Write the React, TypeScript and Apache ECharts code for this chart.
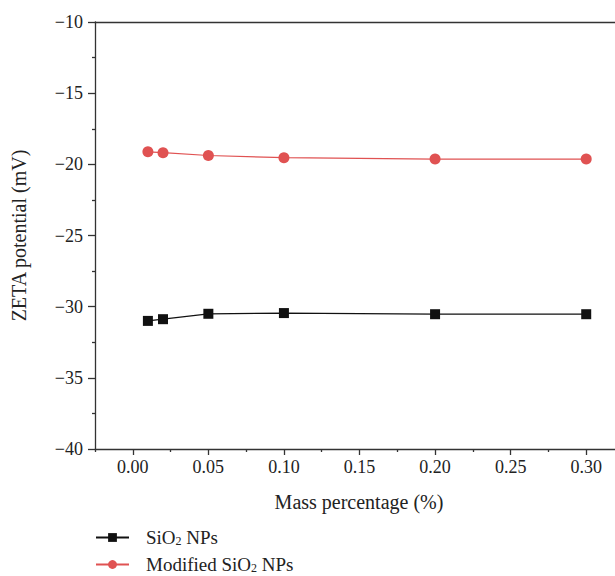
import React, { useEffect, useRef } from "react";
import * as echarts from "echarts";

// Mass percentage (%) of the nanoparticles
const massPercent = [0.01, 0.02, 0.05, 0.1, 0.2, 0.3];
// Zeta potential (mV)
const sio2Zeta = [-31.0, -30.88, -30.5, -30.45, -30.53, -30.53];
const modifiedZeta = [-19.12, -19.18, -19.38, -19.53, -19.63, -19.63];

const xMajorTicks = [0, 0.05, 0.1, 0.15, 0.2, 0.25, 0.3];
const xMinorTicks = [-0.025, 0.025, 0.075, 0.125, 0.175, 0.225, 0.275, 0.325];

const FONT = "'Liberation Serif', 'DejaVu Serif', serif";
const AXIS_COLOR = "#333";
const TEXT_COLOR = "#222";

const X_MIN = -0.025;
const X_MAX = 0.325;

export default function App() {
  const ref = useRef<HTMLDivElement>(null);

  useEffect(() => {
    if (!ref.current) return;
    const chart = echarts.init(ref.current, undefined, { renderer: "svg" });

    const axisLine = { show: true, onZero: false, lineStyle: { color: AXIS_COLOR, width: 1.3 } };
    const richName = {
      a: { fontFamily: FONT, fontSize: 19, color: TEXT_COLOR, lineHeight: 20 },
      sub: { fontFamily: FONT, fontSize: 12, color: TEXT_COLOR, lineHeight: 12, padding: [6, 0, 0, 0] },
    };

    chart.setOption({
      animation: false,
      backgroundColor: "#fff",
      grid: { left: 95, top: 22, right: 56, bottom: 127, containLabel: false },
      xAxis: [
        {
          type: "value",
          position: "bottom",
          min: X_MIN,
          max: X_MAX,
          axisLine,
          axisTick: {
            show: true,
            length: 6,
            customValues: xMajorTicks,
            lineStyle: { color: AXIS_COLOR, width: 1.3 },
          },
          axisLabel: {
            customValues: xMajorTicks,
            margin: 9,
            fontFamily: FONT,
            fontSize: 18,
            color: TEXT_COLOR,
            formatter: (v: number) => v.toFixed(2),
          },
          splitLine: { show: false },
        },
        {
          type: "value",
          position: "bottom",
          min: X_MIN,
          max: X_MAX,
          axisLine: { show: false, onZero: false },
          axisTick: {
            show: true,
            length: 3,
            customValues: xMinorTicks,
            lineStyle: { color: AXIS_COLOR, width: 1.3 },
          },
          axisLabel: { show: false },
          splitLine: { show: false },
        },
        {
          type: "value",
          position: "top",
          min: X_MIN,
          max: X_MAX,
          axisLine,
          axisTick: { show: false },
          axisLabel: { show: false },
          splitLine: { show: false },
        },
      ],
      yAxis: {
        type: "value",
        min: -40,
        max: -10,
        interval: 5,
        axisLine,
        axisTick: { show: true, length: 7, lineStyle: { color: AXIS_COLOR, width: 1.3 } },
        minorTick: { show: true, splitNumber: 2, length: 3, lineStyle: { color: AXIS_COLOR, width: 1.3 } },
        axisLabel: {
          margin: 12,
          fontFamily: FONT,
          fontSize: 18,
          color: TEXT_COLOR,
          formatter: (v: number) => String(v).replace("-", "\u2212"),
        },
        splitLine: { show: false },
        name: "ZETA potential (mV)",
        nameLocation: "middle",
        nameGap: 66,
        nameTextStyle: { fontFamily: FONT, fontSize: 20, color: TEXT_COLOR },
      },
      legend: {
        orient: "vertical",
        left: 95,
        top: 528,
        height: 60,
        padding: 0,
        itemWidth: 33,
        itemHeight: 11,
        itemGap: 8,
        data: ["SiO2 NPs", "Modified SiO2 NPs"],
        formatter: (name: string) =>
          name === "SiO2 NPs" ? "{a|SiO}{sub|2}{a| NPs}" : "{a|Modified SiO}{sub|2}{a| NPs}",
        textStyle: { rich: richName, padding: [0, 0, 0, 12] },
      },
      graphic: [
        {
          type: "text",
          x: 359,
          y: 502,
          style: {
            text: "Mass percentage (%)",
            font: `20px ${FONT}`,
            fill: TEXT_COLOR,
            align: "center",
            verticalAlign: "middle",
          },
        },
      ],
      series: [
        {
          name: "SiO2 NPs",
          type: "line",
          data: massPercent.map((x, i) => [x, sio2Zeta[i]]),
          symbol: "rect",
          symbolSize: 10,
          itemStyle: { color: "#111" },
          lineStyle: { color: "#111", width: 1.2 },
        },
        {
          name: "Modified SiO2 NPs",
          type: "line",
          data: massPercent.map((x, i) => [x, modifiedZeta[i]]),
          symbol: "circle",
          symbolSize: 11,
          itemStyle: { color: "#E05252" },
          lineStyle: { color: "#E05252", width: 1.2 },
        },
      ],
    });

    return () => chart.dispose();
  }, []);

  return (
    <div
      style={{
        position: "absolute",
        left: 0,
        top: 0,
        width: 615,
        height: 576,
        overflow: "hidden",
        background: "#fff",
      }}
    >
      <div ref={ref} style={{ width: 680, height: 576 }} />
    </div>
  );
}
